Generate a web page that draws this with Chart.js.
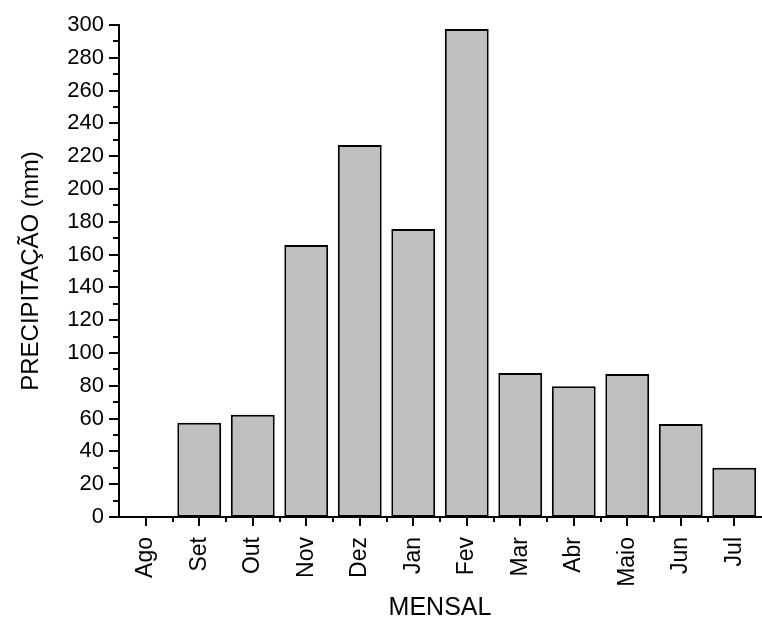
<!DOCTYPE html>
<html>
<head>
<meta charset="utf-8">
<script src="https://cdn.jsdelivr.net/npm/chart.js@4"></script>
<style>
  html, body { margin: 0; padding: 0; background: #fff; }
  canvas { display: block; }
</style>
</head>
<body>
<canvas id="grafica" width="762" height="623"></canvas>
<script>
// dados mensais
const meses = ["Ago", "Set", "Out", "Nov", "Dez", "Jan", "Fev", "Mar", "Abr", "Maio", "Jun", "Jul"];
const precipitacao = [0, 57.5, 62.3, 165.8, 226.8, 175.6, 297.6, 87.8, 79.7, 87.2, 56.7, 30];
const yMin = 0, yMax = 300, yPasso = 20, yMenor = 10;

const fonte = "'Liberation Sans', Arial, Helvetica, sans-serif";

// ticks maiores e menores desenhados para fora, como no original
const marcas = {
  id: 'marcas',
  afterDraw(chart) {
    const c = chart.ctx;
    const y = chart.scales.y, x = chart.scales.x;
    const area = chart.chartArea;
    c.save();
    c.strokeStyle = '#000';
    c.lineWidth = 2;
    c.beginPath();
    for (let v = yMin; v <= yMax; v += yMenor) {
      const py = Math.round(y.getPixelForValue(v));
      const len = (v % yPasso === 0) ? 10 : 6;
      c.moveTo(area.left - len, py);
      c.lineTo(area.left, py);
    }
    const passo = (area.right - area.left) / meses.length;
    for (let i = 0; i < meses.length; i++) {
      const px = Math.round(x.getPixelForValue(i));
      c.moveTo(px, area.bottom);
      c.lineTo(px, area.bottom + 9);
      const pb = Math.round(area.left + passo * i);
      if (i > 0) {
        c.moveTo(pb, area.bottom);
        c.lineTo(pb, area.bottom + 5);
      }
    }
    c.stroke();
    c.restore();
  }
};

const ctx = document.querySelector('#grafica').getContext('2d');
const grafico = new Chart(ctx, {
  type: 'bar',
  data: {
    labels: meses,
    datasets: [{
      label: 'Precipitação',
      data: precipitacao,
      backgroundColor: '#c0c0c0',
      borderColor: '#000',
      borderWidth: 2,
      borderSkipped: false,
      barPercentage: 0.82,
      categoryPercentage: 1
    }]
  },
  options: {
    responsive: false,
    animation: false,
    layout: { padding: { top: 25, right: 1, left: 0, bottom: 0 } },
    plugins: { legend: { display: false }, tooltip: { enabled: false } },
    scales: {
      x: {
        offset: true,
        grid: { display: false, drawTicks: false },
        border: { display: true, color: '#000', width: 2 },
        ticks: {
          color: '#000', minRotation: 90, maxRotation: 90, padding: 20,
          font: { family: fonte, size: 23 }
        },
        title: {
          display: true, text: 'MENSAL', color: '#000',
          font: { family: fonte, size: 25 }, padding: { top: 0, bottom: 0 }
        },
        afterFit(s) { s.height = 106; s.paddingLeft = 0; s.paddingRight = 0; }
      },
      y: {
        min: yMin, max: yMax,
        grid: { display: false, drawTicks: false },
        border: { display: true, color: '#000', width: 2 },
        ticks: {
          stepSize: yPasso, color: '#000', padding: 15,
          font: { family: fonte, size: 22 }
        },
        title: {
          display: true, text: 'PRECIPITAÇÃO (mm)', color: '#000',
          font: { family: fonte, size: 24 }, padding: { top: 17, bottom: 0 }
        },
        afterFit(s) { s.width = 119; s.paddingTop = 0; s.paddingBottom = 0; }
      }
    }
  },
  plugins: [marcas]
});
</script>
</body>
</html>
